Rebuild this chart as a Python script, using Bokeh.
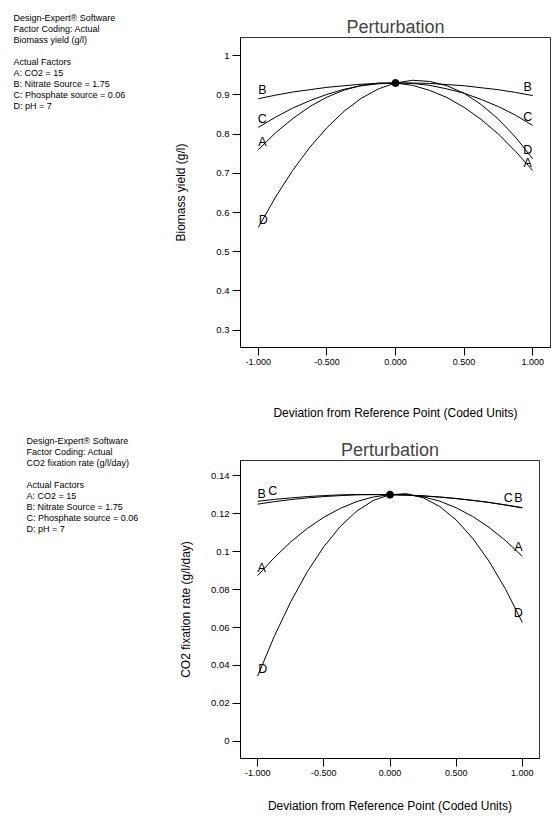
from bokeh.plotting import figure
from bokeh.layouts import column, row
from bokeh.models import Range1d, FixedTicker, ColumnDataSource
from bokeh.embed import file_html
from bokeh.resources import INLINE
from bokeh.core.properties import value

FONT = "Liberation Sans"

# ---------------- data ----------------
x_dev = [-1.0, -0.875, -0.75, -0.625, -0.5, -0.375, -0.25, -0.125, 0.0,
         0.125, 0.25, 0.375, 0.5, 0.625, 0.75, 0.875, 1.0]

biomass_A = [0.760, 0.803, 0.839, 0.870, 0.894, 0.912, 0.924, 0.930, 0.930,
             0.924, 0.911, 0.893, 0.868, 0.837, 0.800, 0.756, 0.707]
biomass_B = [0.890, 0.899, 0.907, 0.913, 0.919, 0.923, 0.927, 0.929, 0.930,
             0.930, 0.929, 0.926, 0.923, 0.918, 0.913, 0.906, 0.898]
biomass_C = [0.817, 0.843, 0.866, 0.885, 0.901, 0.914, 0.923, 0.928, 0.930,
             0.929, 0.924, 0.915, 0.904, 0.888, 0.870, 0.848, 0.822]
biomass_D = [0.562, 0.639, 0.707, 0.766, 0.816, 0.858, 0.891, 0.915, 0.930,
             0.937, 0.934, 0.923, 0.904, 0.875, 0.838, 0.792, 0.737]
biomass_ref = 0.930

co2_A = [0.0874, 0.0968, 0.1051, 0.1122, 0.1181, 0.1228, 0.1264, 0.1288, 0.1300,
         0.1300, 0.1289, 0.1266, 0.1231, 0.1185, 0.1127, 0.1057, 0.0975]
co2_B = [0.1250, 0.1263, 0.1274, 0.1283, 0.1290, 0.1295, 0.1299, 0.1300, 0.1300,
         0.1298, 0.1294, 0.1288, 0.1280, 0.1270, 0.1259, 0.1245, 0.1230]
co2_C = [0.1265, 0.1275, 0.1283, 0.1290, 0.1295, 0.1299, 0.1301, 0.1301, 0.1300,
         0.1297, 0.1293, 0.1287, 0.1279, 0.1270, 0.1259, 0.1246, 0.1232]
co2_D = [0.0345, 0.0553, 0.0736, 0.0894, 0.1026, 0.1133, 0.1214, 0.1270, 0.1300,
         0.1305, 0.1284, 0.1238, 0.1167, 0.1070, 0.0948, 0.0800, 0.0627]
co2_ref = 0.130

x_ticks = [-1.0, -0.5, 0.0, 0.5, 1.0]
x_tick_labels = ["-1.000", "-0.500", "0.000", "0.500", "1.000"]

biomass_ticks = [0.3, 0.4, 0.5, 0.6, 0.7, 0.8, 0.9, 1.0]
biomass_tick_labels = ["0.3", "0.4", "0.5", "0.6", "0.7", "0.8", "0.9", "1"]

co2_ticks = [0.0, 0.02, 0.04, 0.06, 0.08, 0.1, 0.12, 0.14]
co2_tick_labels = ["0", "0.02", "0.04", "0.06", "0.08", "0.1", "0.12", "0.14"]

info_biomass = ["Design-Expert\u00ae Software", "Factor Coding: Actual", "Biomass yield (g/l)", "",
                "Actual Factors", "A: CO2 = 15", "B: Nitrate Source = 1.75",
                "C: Phosphate source = 0.06", "D: pH = 7"]
info_co2 = ["Design-Expert\u00ae Software", "Factor Coding: Actual", "CO2 fixation rate (g/l/day)", "",
            "Actual Factors", "A: CO2 = 15", "B: Nitrate Source = 1.75",
            "C: Phosphate source = 0.06", "D: pH = 7"]

x_title = "Deviation from Reference Point (Coded Units)"

W, H = 552, 822
INFO_W = 160
LINE_H = 11
H1, H2 = 430, 392


def make_info(blocks):
    # one panel spanning the full page height; pixel-like data space from the top-left
    q = figure(width=INFO_W, height=H, x_range=Range1d(0, INFO_W),
               y_range=Range1d(H, 0),
               x_axis_type=None, y_axis_type=None, output_backend="svg",
               toolbar_location=None, min_border=0, outline_line_color=None,
               background_fill_color="white", border_fill_color="white")
    q.xgrid.visible = False
    q.ygrid.visible = False
    xs, ys, ts = [], [], []
    for info, left, first_y in blocks:
        for i, line in enumerate(info):
            if not line:
                continue
            xs.append(left); ys.append(first_y + i * LINE_H); ts.append(line)
    q.text(x=xs, y=ys, text=ts, text_font=value(FONT), text_font_size="9px",
           text_align="left", text_baseline="middle", text_color="black")
    return q


def make_chart(series, ref_y, yr, yticks, ylabels, ylabel,
               height, borders, offsets, xstand, ystand):
    bt, bb, bl, br = borders
    p = figure(width=W - INFO_W, height=height, x_range=Range1d(-1.13, 1.13),
               y_range=Range1d(*yr), output_backend="svg", toolbar_location=None,
               min_border_top=bt, min_border_bottom=bb, min_border_left=bl,
               min_border_right=br, background_fill_color="white",
               border_fill_color="white")
    p.title.text = "Perturbation"
    p.title.text_font = FONT
    p.title.text_font_size = "18px"
    p.title.text_font_style = "normal"
    p.title.align = "center"
    p.title.standoff = 2
    p.xgrid.visible = False
    p.ygrid.visible = False
    p.outline_line_color = "#333333"
    p.outline_line_width = 1

    p.xaxis.ticker = FixedTicker(ticks=x_ticks)
    p.xaxis.major_label_overrides = dict(zip(x_ticks, x_tick_labels))
    p.yaxis.ticker = FixedTicker(ticks=yticks)
    p.yaxis.major_label_overrides = dict(zip(yticks, ylabels))
    p.xaxis.axis_label = x_title
    p.yaxis.axis_label = ylabel
    p.xaxis.axis_label_standoff = xstand
    p.yaxis.axis_label_standoff = ystand
    for ax in (p.xaxis[0], p.yaxis[0]):
        ax.major_tick_out = 8
        ax.major_tick_in = 0
        ax.minor_tick_out = 0
        ax.minor_tick_in = 0
        ax.axis_line_color = "black"
        ax.major_tick_line_color = "black"
        ax.major_label_text_font = FONT
        ax.major_label_text_color = "black"
        ax.major_label_standoff = 3
        ax.axis_label_text_font = FONT
        ax.axis_label_text_font_size = "12px"
        ax.axis_label_text_font_style = "normal"
        ax.axis_label_text_color = "black"
    p.xaxis.major_label_text_font_size = "9px"
    p.yaxis.major_label_text_font_size = "9.5px"

    for name, ys in series.items():
        p.line(x_dev, ys, line_color="black", line_width=1)
    p.scatter([0.0], [ref_y], size=7, color="black")

    lx, ly, lt, xo, yo = [], [], [], [], []
    for name, ys in series.items():
        for side, idx in (("L", 0), ("R", -1)):
            dx, dy = offsets[(name, side)]
            lx.append(x_dev[idx]); ly.append(ys[idx]); lt.append(name)
            xo.append(dx); yo.append(dy)
    src = ColumnDataSource(dict(x=lx, y=ly, t=lt, xo=xo, yo=yo))
    p.text(x="x", y="y", text="t", x_offset="xo", y_offset="yo", source=src,
           text_font=value(FONT), text_font_size="12.5px", text_align="center",
           text_baseline="bottom", text_color="black")
    return p


top_offsets = {("A", "L"): (4, -1), ("A", "R"): (-5, -1),
               ("B", "L"): (4, -2), ("B", "R"): (-5, -2),
               ("C", "L"): (4, -1), ("C", "R"): (-5, -1),
               ("D", "L"): (5, 0), ("D", "R"): (-5, -2)}
bot_offsets = {("A", "L"): (4, -1), ("A", "R"): (-4, -2),
               ("B", "L"): (4, -3), ("B", "R"): (-4, -3),
               ("C", "L"): (15, -3), ("C", "R"): (-14, -3),
               ("D", "L"): (5, 0), ("D", "R"): (-4, -2)}

p1 = make_chart({"A": biomass_A, "B": biomass_B, "C": biomass_C, "D": biomass_D},
                biomass_ref, (0.256, 1.046), biomass_ticks, biomass_tick_labels,
                "Biomass yield (g/l)", H1, (37, 83, 240 - INFO_W, 2), top_offsets, 38, 25)
p2 = make_chart({"A": co2_A, "B": co2_B, "C": co2_C, "D": co2_D},
                co2_ref, (-0.009, 0.148), co2_ticks, co2_tick_labels,
                "CO2 fixation rate (g/l/day)", H2, (30, 64, 240 - INFO_W, 13), bot_offsets, 20, 15)
info = make_info([(info_biomass, 13, 17), (info_co2, 26, H1 + 10)])

layout = row(info, column(row(p1, spacing=0), row(p2, spacing=0), spacing=0), spacing=0)
open("out.html", "w").write(file_html(layout, INLINE))
